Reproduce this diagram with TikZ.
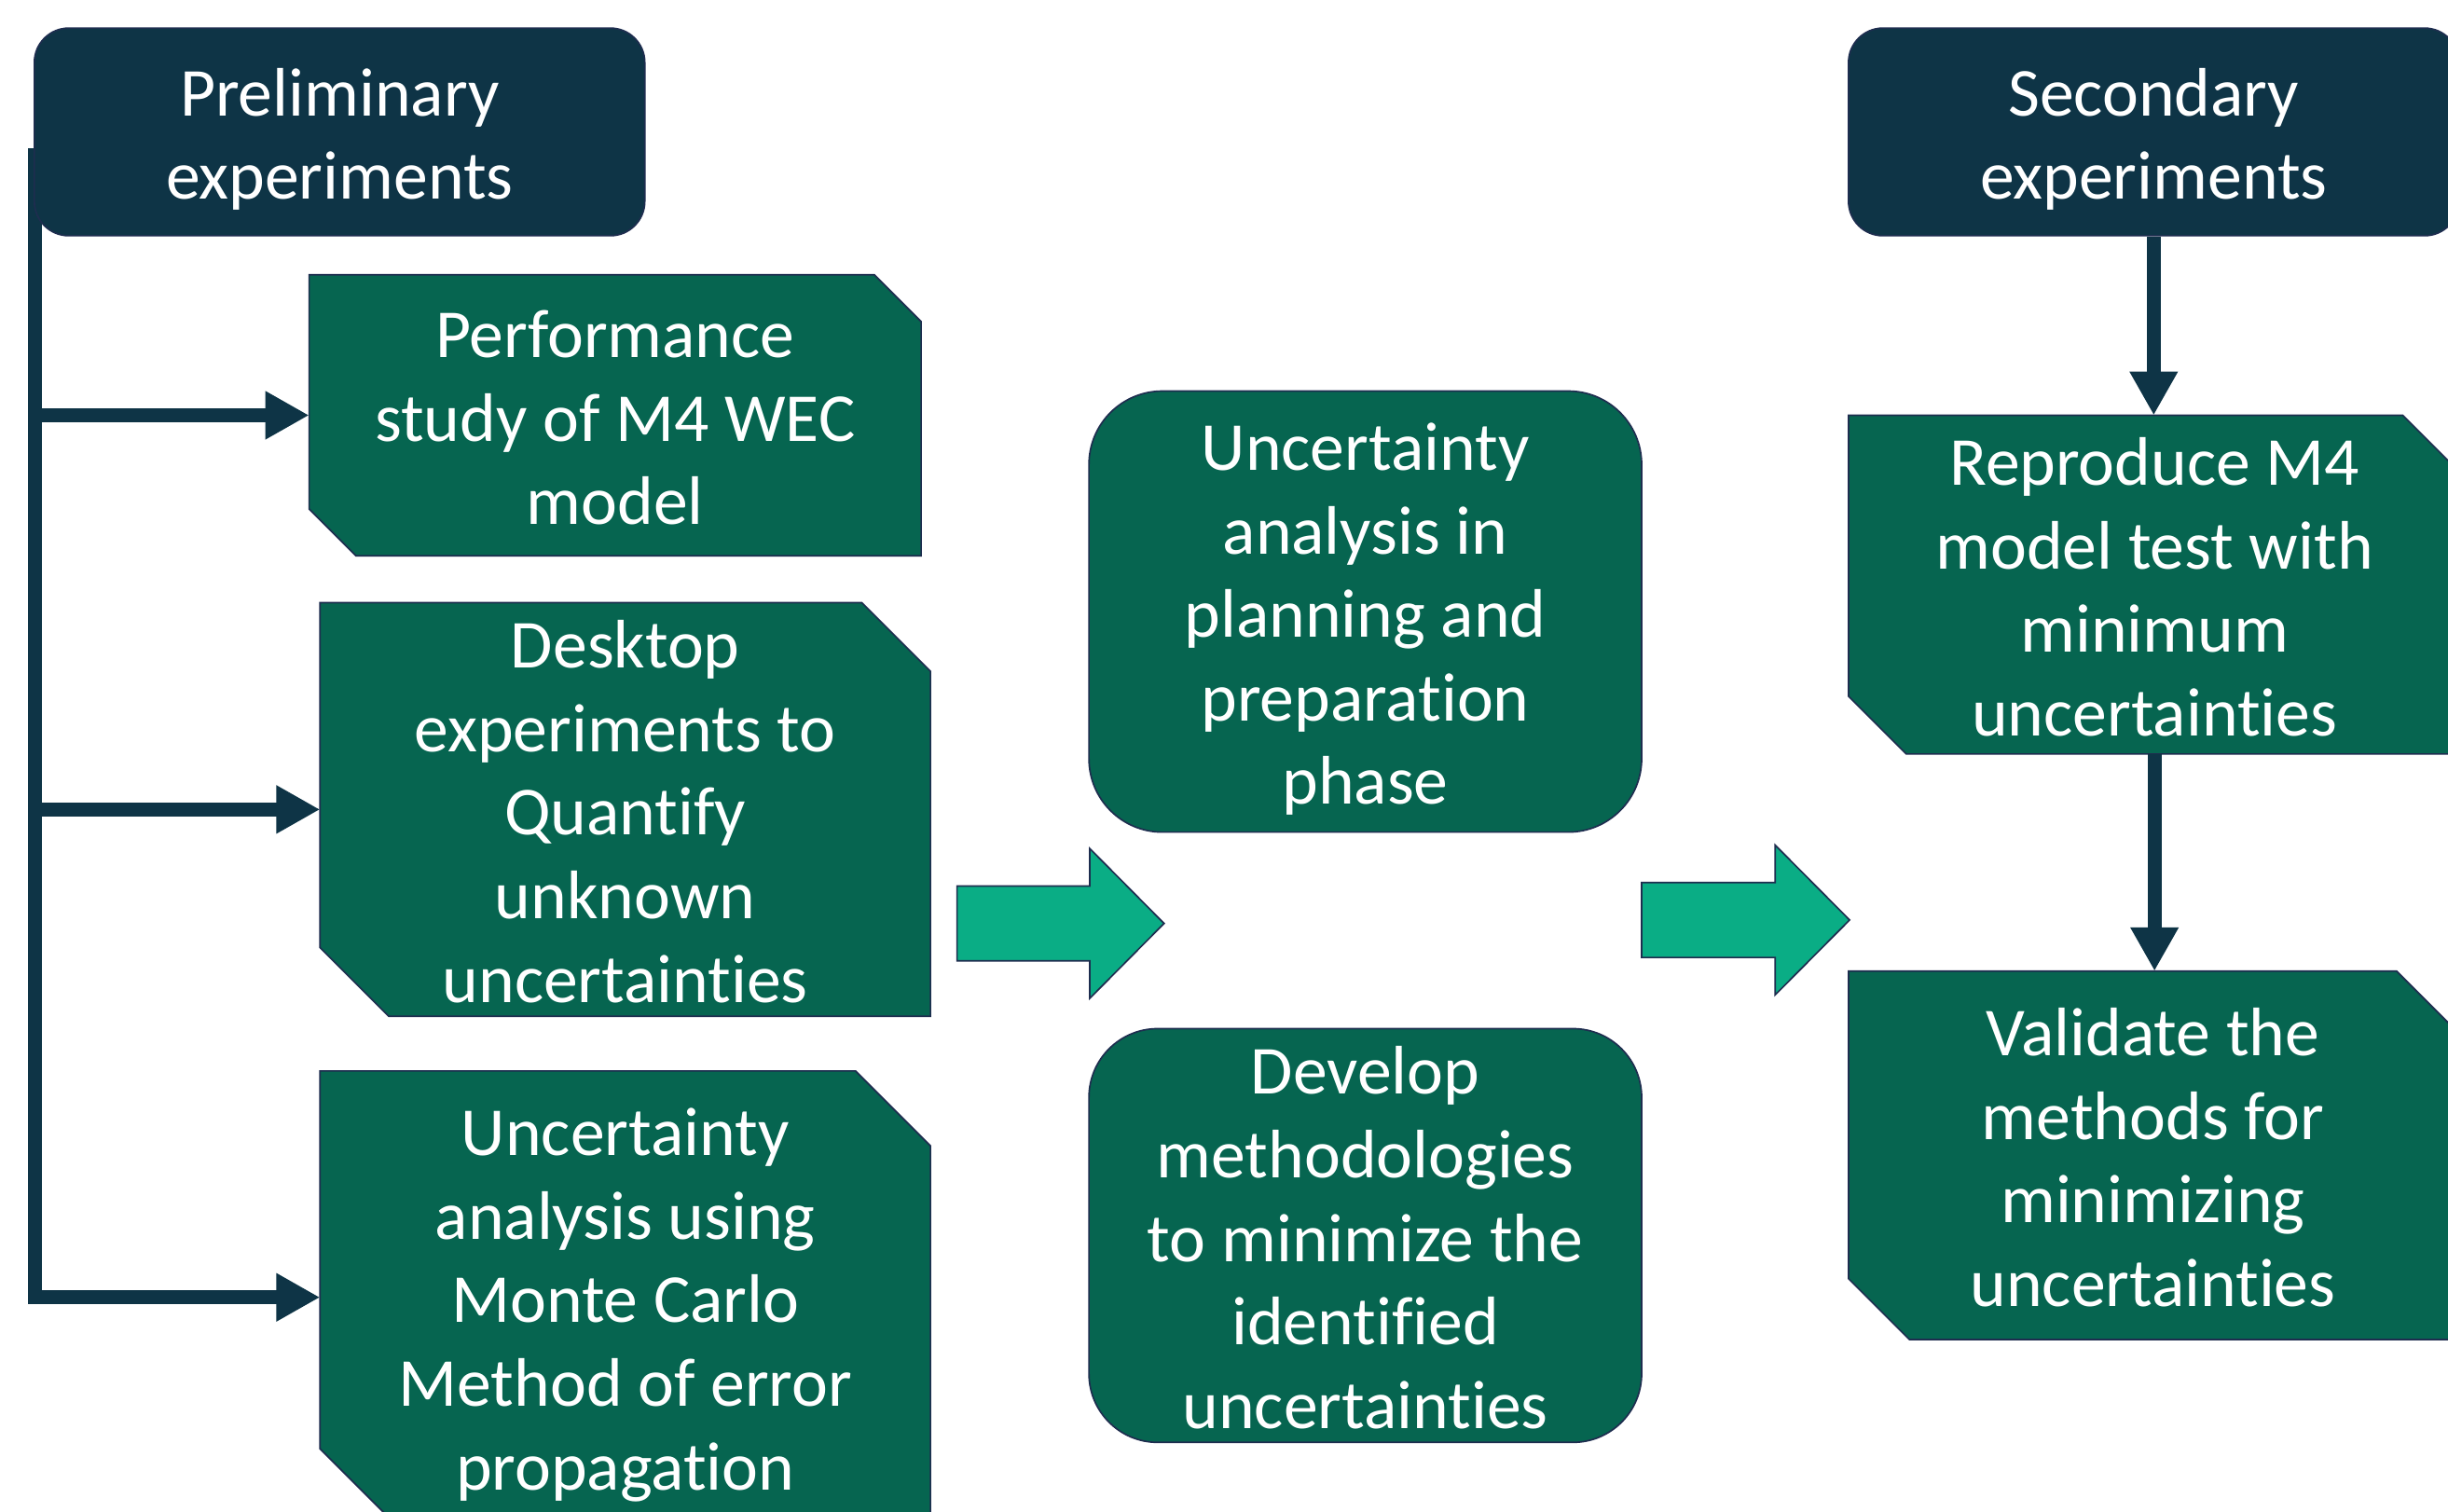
\documentclass[tikz,border=0pt]{standalone}
\usepackage{fontspec}
\setmainfont{Carlito}[RawFeature={-liga;-clig;-dlig;-calt}]
\usetikzlibrary{arrows.meta,backgrounds}

\definecolor{hdr}{HTML}{0E3446}
\definecolor{boxgreen}{HTML}{066550}
\definecolor{arrowteal}{HTML}{0AAD85}
\definecolor{edge}{HTML}{1E2D4F}

% fixed first-line height and last-line depth keep every text block centred alike
\newcommand\topline{\rule{0pt}{40pt}}
\newcommand\botline{\rule[-7pt]{0pt}{0pt}}

% filled box with the north-east and south-west corners cut off
\newcommand\snipfill[2]{%
  \filldraw[snipbox] (#1.north west) -- ([xshift=-#2pt]#1.north east)
    -- ([yshift=-#2pt]#1.north east) -- (#1.south east)
    -- ([xshift=#2pt]#1.south west) -- ([yshift=#2pt]#1.south west) -- cycle;}

\begin{document}
\begin{tikzpicture}[x=1pt,y=-1pt,
  txt/.style={text=white, font=\fontsize{44}{53.5}\selectfont, align=center, inner sep=0pt},
  header/.style={txt, fill=hdr, draw=edge, line width=1pt, rounded corners=22pt,
                 minimum width=391pt, minimum height=133pt},
  roundbox/.style={txt, fill=boxgreen, draw=edge, line width=1pt, minimum width=354pt},
  snipnode/.style={txt, outer sep=0pt},
  snipbox/.style={fill=boxgreen, draw=edge, line width=1pt, line join=miter},
  conn/.style={draw=hdr, line width=9pt, line join=miter,
               -{Triangle[length=28pt,width=29pt]}},
  blockarrow/.style={fill=arrowteal, draw=edge, line width=1pt, line join=miter}]

\useasboundingbox (0,0) rectangle (1568,968);

% headers
\node[header] (prelim) at (217.5,84.5) {\topline Preliminary\\experiments\botline};
\node[header] (second) at (1379.5,84.5) {\topline Secondary\\experiments\botline};

% preliminary experiment boxes
\node[snipnode, minimum width=392pt, minimum height=180pt] (perf) at (394,266)
  {\topline Performance\\study of M4 WEC\\model\botline};
\node[snipnode, minimum width=391pt, minimum height=265pt] (desk) at (400.5,518.5)
  {\topline Desktop\\experiments to\\Quantify\\unknown\\uncertainties\botline};
\node[snipnode, minimum width=391pt, minimum height=290pt] (mc) at (400.5,831)
  {\topline Uncertainty\\analysis using\\Monte Carlo\\Method of error\\propagation\botline};

% middle column
\node[roundbox, minimum height=282.5pt, rounded corners=47pt] (plan) at (874.5,391.75)
  {\topline Uncertainty\\analysis in\\planning and\\preparation\\phase\botline};
\node[roundbox, minimum height=265pt, rounded corners=44pt] (dev) at (874.5,791.4)
  {\topline Develop\\methodologies\\to minimize the\\identified\\uncertainties\botline};

% secondary experiment boxes
\node[snipnode, minimum width=392pt, minimum height=217pt] (repro) at (1380,374.5)
  {\topline Reproduce M4\\model test with\\minimum\\uncertainties\botline};
\node[snipnode, minimum width=390pt, minimum height=236pt] (valid) at (1379,740)
  {\topline Validate the\\methods for\\minimizing\\uncertainties\botline};

\begin{scope}[on background layer]
  \fill[white] (0,0) rectangle (1568,968);
  \coordinate (spine) at (22.5,95);
  \draw[conn] (spine) |- (mc.west);
  \snipfill{perf}{30}
  \snipfill{desk}{44}
  \snipfill{mc}{48}
  \snipfill{repro}{37}
  \snipfill{valid}{39}
\end{scope}

% branches from the spine
\draw[conn] (spine |- perf.west) -- (perf.west);
\draw[conn] (spine |- desk.west) -- (desk.west);

% secondary chain
\draw[conn] (second.south) -- (second.south |- repro.north);
\draw[conn] (repro.south) -- (repro.south |- valid.north);

% block arrows between the columns
\filldraw[blockarrow] (613,567.5) -- ++(85,0) -- ++(0,-24) -- ++(47.6,48)
  -- ++(-47.6,48) -- ++(0,-24) -- ++(-85,0) -- cycle;
\filldraw[blockarrow] (1051.5,565.3) -- ++(85.5,0) -- ++(0,-24) -- ++(47.7,48)
  -- ++(-47.7,48) -- ++(0,-24) -- ++(-85.5,0) -- cycle;
\end{tikzpicture}
\end{document}
